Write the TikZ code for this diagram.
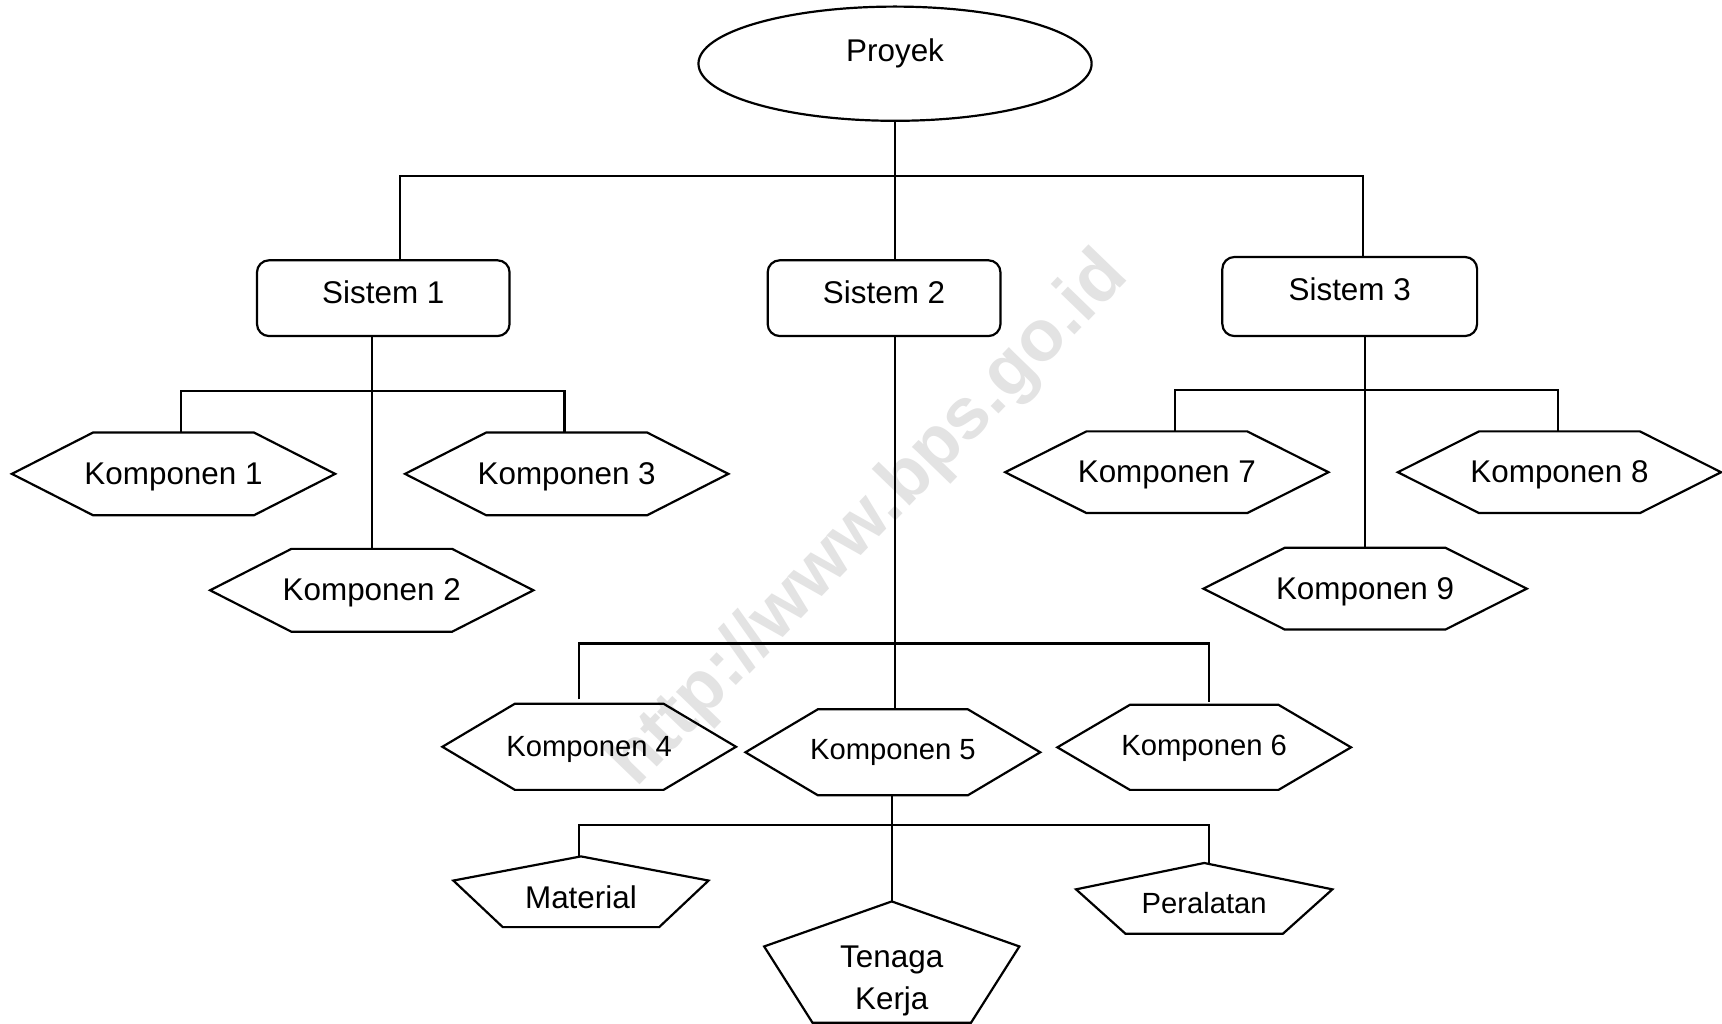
\documentclass[tikz,border=0pt]{standalone}
\usepackage{fontspec}
\setmainfont{Liberation Sans}
\usetikzlibrary{shapes.geometric,calc}
\newcommand\rbx[2]{\raisebox{#1}[0pt][0pt]{#2}}
\newcommand\fbig{\fontsize{28.6pt}{39pt}\selectfont}
\newcommand\fsmall{\fontsize{26.6pt}{36pt}\selectfont}
\newcommand\hexdraw[2]{\draw[ln] (#1.west) -- ([xshift=#2]#1.north west) -- ([xshift=-#2]#1.north east) -- (#1.east) -- ([xshift=-#2]#1.south east) -- ([xshift=#2]#1.south west) -- cycle;}
\newcommand\pentdraw[3]{\draw[ln] (#1.north) -- ([yshift=-#2]#1.north east) -- ([xshift=-#3]#1.south east) -- ([xshift=#3]#1.south west) -- ([yshift=-#2]#1.north west) -- cycle;}
\begin{document}
\begin{tikzpicture}[x=1pt,y=-1pt,
  ln/.style={line width=2pt,line join=miter},
  ell/.style={ellipse,draw,ln,minimum width=358pt,minimum height=104pt,inner sep=0pt,font=\fbig},
  sbox/.style={rectangle,draw,ln,rounded corners=11pt,inner sep=0pt,minimum height=69pt,font=\fbig},
  hexn/.style={rectangle,inner sep=0pt,minimum width=294pt,minimum height=75pt,font=\fbig},
  hexs/.style={rectangle,inner sep=0pt,minimum width=267pt,minimum height=78pt,font=\fsmall},
  pentn/.style={rectangle,inner sep=0pt,minimum width=232pt,minimum height=64pt,font=\fbig}]
\useasboundingbox (0,0) rectangle (1568,932);
\fill[white] (0,0) rectangle (1568,932);
% watermark
\node[rotate=46,text=black!11,font=\fontsize{66pt}{66pt}\selectfont\bfseries] (wm) at (792,474) {http://www.bps.go.id};
% top
\node[ell] (proyek) at (815,58) {\rbx{2pt}{Proyek}};
\node[sbox,minimum width=230pt] (sis1) at (349,271.5) {\rbx{-4.5pt}{Sistem 1}};
\node[sbox,minimum width=212pt] (sis2) at (805,271.5) {\rbx{-4.5pt}{Sistem 2}};
\node[sbox,minimum width=232pt,minimum height=72pt] (sis3) at (1229,270) {\rbx{-4pt}{Sistem 3}};
% komponen
\node[hexn] (k1) at (158,431.5) {\rbx{-9.5pt}{Komponen 1}}; \hexdraw{k1}{74pt}
\node[hexn] (k3) at (516,431.5) {\rbx{-9.5pt}{Komponen 3}}; \hexdraw{k3}{74pt}
\node[hexn] (k2) at (338.5,537.5) {\rbx{-9.5pt}{Komponen 2}}; \hexdraw{k2}{74pt}
\node[hexn,minimum height=74pt] (k7) at (1062.5,430) {\rbx{-9pt}{Komponen 7}}; \hexdraw{k7}{74pt}
\node[hexn,minimum height=74pt] (k8) at (1420,430) {\rbx{-9pt}{Komponen 8}}; \hexdraw{k8}{74pt}
\node[hexn,minimum height=74pt] (k9) at (1243,536) {\rbx{-10pt}{Komponen 9}}; \hexdraw{k9}{74pt}
\node[hexs] (k4) at (536.5,680) {\rbx{-9pt}{Komponen 4}}; \hexdraw{k4}{66pt}
\node[hexs,minimum width=268pt] (k5) at (813,685) {\rbx{-7pt}{Komponen 5}}; \hexdraw{k5}{66pt}
\node[hexs,minimum height=77pt] (k6) at (1096.5,680.5) {\rbx{-7.5pt}{Komponen 6}}; \hexdraw{k6}{66pt}
% resources
\node[pentn] (mat) at (529,812) {\rbx{-15pt}{Material}}; \pentdraw{mat}{22pt}{45pt}
\node[pentn,minimum width=233pt,font=\fsmall] (per) at (1096.5,818) {\rbx{-14pt}{Peralatan}}; \pentdraw{per}{24pt}{45pt}
\node[pentn,minimum height=110pt] (tk) at (812,876) {\rbx{-22.5pt}{\begin{tabular}{@{}c@{}}Tenaga\\Kerja\end{tabular}}}; \pentdraw{tk}{41pt}{44pt}
% connectors level 1
\draw[ln] (proyek.south) -- (proyek.south |- sis2.north);
\coordinate (b1) at (364,160);
\coordinate (b3) at (1241,160);
\draw[ln] (b1 |- sis1.north) -- (b1) -- (b3) -- (b3 |- sis3.north);
% Sistem 1
\draw[ln] (k2.north |- sis1.south) -- (k2.north);
\coordinate (c1) at (165,356);
\coordinate (c3) at (514,356);
\draw[ln] (c1 |- k1.north) -- (c1) -- (c3) -- (c3 |- k3.north);
% Sistem 2
\draw[ln] (proyek.south |- sis2.south) -- (proyek.south |- k5.north);
\coordinate (d4) at (527,586);
\coordinate (d6) at (1101,586);
\draw[ln] ($(d4 |- k4.north)+(0,-4)$) -- (d4) -- (d6) -- ($(d6 |- k6.north)+(0,-3)$);
% Komponen 5
\draw[ln] (tk.north |- k5.south) -- (tk.north);
\coordinate (e1) at (527,751);
\coordinate (e3) at (1101,751);
\draw[ln] (e1 |- mat.north) -- (e1) -- (e3) -- (e3 |- per.north);
% Sistem 3
\draw[ln] (k9.north |- sis3.south) -- (k9.north);
\coordinate (f7) at (1070,355);
\coordinate (f8) at (1419,355);
\draw[ln] (f7 |- k7.north) -- (f7) -- (f8) -- (f8 |- k8.north);
\end{tikzpicture}
\end{document}
